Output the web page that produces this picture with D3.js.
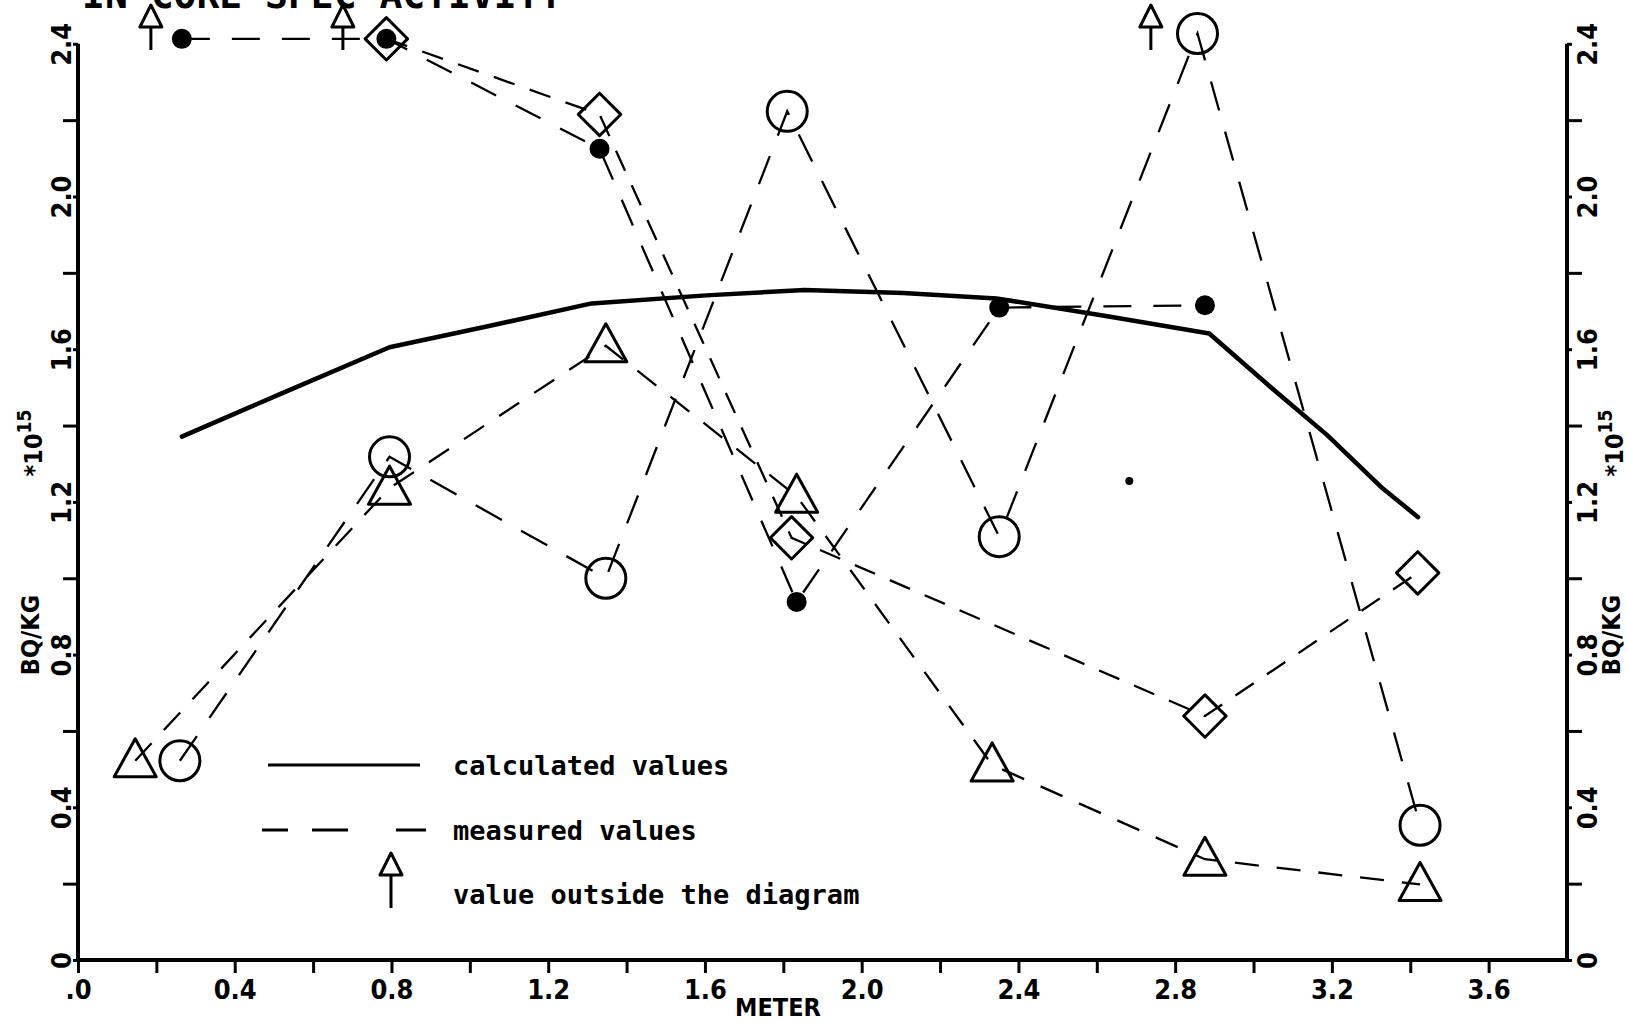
<!DOCTYPE html>
<html>
<head>
<meta charset="utf-8">
<script src="https://cdn.jsdelivr.net/npm/d3@7"></script>
<style>
  html, body { margin: 0; padding: 0; background: #fff; }
  svg { display: block; }
  .num { font-family: "DejaVu Sans Condensed", "DejaVu Sans", sans-serif; font-weight: bold; font-size: 27px; fill: #000; }
  .leg { font-family: "DejaVu Sans Mono", monospace; font-weight: bold; font-size: 27px; fill: #000; }
</style>
</head>
<body>
<script>
// in-core specific activity along the core (meter), Bq/kg * 10^15

// calculated values (solid line)
var calcX = [0.265, 0.517, 0.795, 1.046, 1.311, 1.603, 1.854, 2.106, 2.344, 2.623, 2.887, 3.050, 3.188, 3.330, 3.420];
var calcY = [1.371, 1.483, 1.605, 1.660, 1.720, 1.741, 1.755, 1.747, 1.733, 1.687, 1.641, 1.495, 1.375, 1.235, 1.160];

// measured values, one array pair per marker
var dotX = [0.265, 0.787, 1.331, 1.834, 2.351, 2.876];
var dotY = [2.413, 2.413, 2.125, 0.938, 1.709, 1.715];

var diamondX = [0.787, 1.331, 1.821, 2.876, 3.419];
var diamondY = [2.413, 2.215, 1.106, 0.639, 1.014];

var circleX = [0.260, 0.795, 1.347, 1.810, 2.351, 2.857, 3.425];
var circleY = [0.522, 1.318, 1.000, 2.223, 1.109, 2.427, 0.353];

var triangleX = [0.146, 0.795, 1.347, 1.834, 2.333, 2.876, 3.425];
var triangleY = [0.522, 1.236, 1.609, 1.215, 0.511, 0.264, 0.198];

// "value outside the diagram" arrows
var arrowX = [0.186, 0.676, 2.738];

// stray point in the plot
var strayX = [2.683];
var strayY = [1.255];

var xTicks = [0, 0.2, 0.4, 0.6, 0.8, 1.0, 1.2, 1.4, 1.6, 1.8, 2.0, 2.2, 2.4, 2.6, 2.8, 3.0, 3.2, 3.4, 3.6];
var xMajor = [0, 0.4, 0.8, 1.2, 1.6, 2.0, 2.4, 2.8, 3.2, 3.6];
var xLabels = [".0", "0.4", "0.8", "1.2", "1.6", "2.0", "2.4", "2.8", "3.2", "3.6"];
var yMinor = [0.2, 0.6, 1.0, 1.4, 1.8, 2.2];
var yMajor = [0, 0.4, 0.8, 1.2, 1.6, 2.0, 2.4];
var yLabels = ["0", "0.4", "0.8", "1.2", "1.6", "2.0", "2.4"];

var W = 1627, H = 1023;
var svg = d3.select("body").append("svg").attr("width", W).attr("height", H);

var x = d3.scaleLinear().domain([0, 3.8]).range([78, 1567]);
var y = d3.scaleLinear().domain([0, 2.4]).range([960, 43.8]);

function zip(xs, ys) {
    return xs.map(function (v, i) { return [v, ys[i]]; });
}
var line = d3.line().x(function (d) { return x(d[0]); }).y(function (d) { return y(d[1]); });

// title, cut off at the top of the scan
svg.append("text")
    .attr("x", 82).attr("y", 8)
    .attr("style", "font-family:'DejaVu Sans Mono',monospace;font-weight:bold;font-size:38px")
    .text("IN-CORE SPEC ACTIVITY");

// axes
function styleAxis(g) {
    g.select(".domain").attr("stroke", "#000").attr("stroke-width", 4);
    g.selectAll(".tick line").attr("stroke", "#000").attr("stroke-width", 3);
}

var xAxis = d3.axisBottom(x).tickValues(xTicks).tickSizeOuter(0).tickSize(13)
    .tickFormat(function (d) {
        var i = xMajor.findIndex(function (m) { return Math.abs(m - d) < 1e-6; });
        return i >= 0 ? xLabels[i] : "";
    });
var gx = svg.append("g").attr("transform", "translate(0," + y(0) + ")").call(xAxis);
gx.select(".domain").attr("d", "M" + x(0) + ",0H" + x(3.8));
styleAxis(gx);
gx.selectAll("text").attr("class", "num").attr("y", 19).attr("dy", "0.75em");

function yAxisPair(side) {
    var axisFn = side === "left" ? d3.axisLeft : d3.axisRight;
    var xPos = side === "left" ? x(0) : x(3.8);
    var minor = svg.append("g").attr("transform", "translate(" + xPos + ",0)")
        .call(axisFn(y).tickValues(yMinor).tickSize(15).tickSizeOuter(0).tickFormat(""));
    styleAxis(minor);
    minor.select(".domain").remove();
    var major = svg.append("g").attr("transform", "translate(" + xPos + ",0)")
        .call(axisFn(y).tickValues(yMajor).tickSize(5).tickSizeOuter(0)
            .tickFormat(function (d, i) { return yLabels[i]; }));
    styleAxis(major);
    major.select(".domain").attr("d", "M0," + y(0) + "V" + y(2.4));
    var off = side === "left" ? -17 : 20;
    major.selectAll("text")
        .attr("class", "num")
        .attr("transform", "rotate(-90)")
        .attr("x", 0).attr("y", off).attr("dy", null)
        .attr("text-anchor", "middle")
        .attr("dominant-baseline", "central");
}
yAxisPair("left");
yAxisPair("right");

// unit labels
function unitLabel(cx) {
    svg.append("text").attr("class", "num")
        .attr("transform", "translate(" + cx + "," + 635 + ") rotate(-90)")
        .attr("text-anchor", "middle").attr("dominant-baseline", "central")
        .style("font-size", "25px")
        .text("BQ/KG");
    var t = svg.append("text").attr("class", "num")
        .attr("transform", "translate(" + (cx + 3) + "," + 443 + ") rotate(-90)")
        .attr("text-anchor", "middle").attr("dominant-baseline", "central")
        .style("font-size", "25px");
    t.append("tspan").text("*10");
    t.append("tspan").attr("dy", -9).style("font-size", "19px").text("15");
}
unitLabel(30);
unitLabel(1611);

svg.append("text").attr("class", "num")
    .attr("x", 778).attr("y", 1016).attr("text-anchor", "middle")
    .style("font-size", "25px")
    .text("METER");

// measured lines
var measured = [
    { x: dotX, y: dotY, dash: "28,22" },
    { x: diamondX, y: diamondY, dash: "22,16" },
    { x: circleX, y: circleY, dash: "30,22" },
    { x: triangleX, y: triangleY, dash: "24,18" }
];
svg.append("g").selectAll("path").data(measured).enter().append("path")
    .attr("d", function (s) { return line(zip(s.x, s.y)); })
    .attr("fill", "none").attr("stroke", "#000").attr("stroke-width", 2.3)
    .attr("stroke-dasharray", function (s) { return s.dash; });

// calculated line
svg.append("path")
    .attr("d", line(zip(calcX, calcY)))
    .attr("fill", "none").attr("stroke", "#000").attr("stroke-width", 4.5)
    .attr("stroke-linejoin", "round").attr("stroke-linecap", "round");

// markers
var mk = svg.append("g").attr("fill", "none").attr("stroke", "#000").attr("stroke-width", 3);

mk.selectAll("circle.m").data(zip(circleX, circleY)).enter().append("circle")
    .attr("class", "m")
    .attr("cx", function (d) { return x(d[0]); })
    .attr("cy", function (d) { return y(d[1]); })
    .attr("r", 20);

mk.selectAll("path.dia").data(zip(diamondX, diamondY)).enter().append("path")
    .attr("class", "dia")
    .attr("transform", function (d) { return "translate(" + x(d[0]) + "," + y(d[1]) + ") rotate(45)"; })
    .attr("d", "M-15,-15H15V15H-15Z")
    .attr("stroke-linejoin", "round");

mk.selectAll("path.tri").data(zip(triangleX, triangleY)).enter().append("path")
    .attr("class", "tri")
    .attr("transform", function (d) { return "translate(" + x(d[0]) + "," + y(d[1]) + ")"; })
    .attr("d", "M0,-22L21,16H-21Z")
    .attr("stroke-linejoin", "round");

svg.append("g").selectAll("circle").data(zip(dotX, dotY)).enter().append("circle")
    .attr("cx", function (d) { return x(d[0]); })
    .attr("cy", function (d) { return y(d[1]); })
    .attr("r", 10).attr("fill", "#000");

svg.append("g").selectAll("circle").data(zip(strayX, strayY)).enter().append("circle")
    .attr("cx", function (d) { return x(d[0]); })
    .attr("cy", function (d) { return y(d[1]); })
    .attr("r", 4).attr("fill", "#000");

// arrows for values outside the diagram
function arrow(g, cx, top, bottom) {
    g.append("path")
        .attr("d", "M" + cx + "," + top + "L" + (cx + 11) + "," + (top + 22) + "H" + (cx - 11) + "Z")
        .attr("fill", "#fff").attr("stroke", "#000").attr("stroke-width", 3)
        .attr("stroke-linejoin", "round");
    g.append("line")
        .attr("x1", cx).attr("x2", cx).attr("y1", top + 22).attr("y2", bottom)
        .attr("stroke", "#000").attr("stroke-width", 3);
}
var ag = svg.append("g");
arrowX.forEach(function (v) { arrow(ag, x(v), 5, 50); });

// legend
var lg = svg.append("g");
lg.append("line").attr("x1", 268).attr("x2", 420).attr("y1", 765).attr("y2", 765)
    .attr("stroke", "#000").attr("stroke-width", 3);
lg.append("text").attr("class", "leg").attr("x", 453).attr("y", 765)
    .attr("dominant-baseline", "central").text("calculated values");
lg.append("line").attr("x1", 262).attr("x2", 426).attr("y1", 830).attr("y2", 830)
    .attr("stroke", "#000").attr("stroke-width", 3)
    .attr("stroke-dasharray", "26,24,36,48,30");
lg.append("text").attr("class", "leg").attr("x", 453).attr("y", 830)
    .attr("dominant-baseline", "central").text("measured values");
arrow(lg, 391, 853, 908);
lg.append("text").attr("class", "leg").attr("x", 453).attr("y", 894)
    .attr("dominant-baseline", "central").text("value outside the diagram");
</script>
</body>
</html>
